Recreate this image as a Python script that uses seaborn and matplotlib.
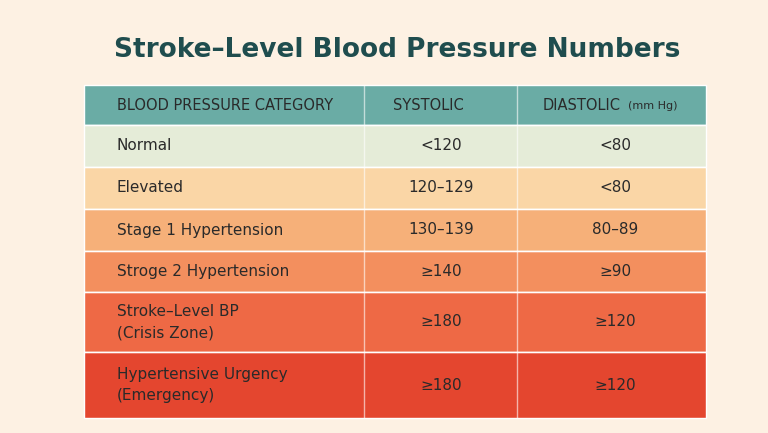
import matplotlib
matplotlib.use("Agg")
import matplotlib.pyplot as plt
import seaborn as sns

sns.set_theme(style="white")
plt.rcParams['font.family'] = ['DejaVu Sans']

title = "Stroke–Level Blood Pressure Numbers"
headers = ["BLOOD PRESSURE CATEGORY", "SYSTOLIC", "DIASTOLIC"]
categories = ["Normal", "Elevated", "Stage 1 Hypertension", "Stroge 2 Hypertension",
              "Stroke–Level BP\n(Crisis Zone)", "Hypertensive Urgency\n(Emergency)"]
systolic = ["<120", "120–129", "130–139", "≥140", "≥180", "≥180"]
diastolic = ["<80", "<80", "80–89", "≥90", "≥120", "≥120"]
row_colors = ["#e5ecd8", "#fad6a6", "#f6b079", "#f38f5e", "#ee6945", "#e4462f"]
row_edges = [125, 167, 209, 251, 292, 352, 418]

fig = plt.figure(figsize=(7.68, 4.33), dpi=100)
fig.patch.set_facecolor("#fdf1e3")
ax = fig.add_axes([0, 0, 1, 1])
ax.set_xlim(0, 768); ax.set_ylim(433, 0); ax.axis("off")

L, R = 84, 706
c1, c2 = 364, 517
ax.barh([105], [R - L], height=40, left=L, color="#6aaca5", align="center")
for i in range(len(categories)):
    top, bot = row_edges[i], row_edges[i + 1]
    ax.barh([(top + bot) / 2], [R - L], height=bot - top, left=L, color=row_colors[i])
    ax.plot([L, R], [top, top], color="white", lw=1, alpha=0.6)
for x in (c1, c2):
    ax.plot([x, x], [85, 418], color="white", lw=1, alpha=0.6)

tc = "#2a2a2a"
ax.text(397, 50, title, ha="center", va="center", fontsize=19, fontweight="bold", color="#1f4d4e")
ax.text(117, 105, headers[0], ha="left", va="center", fontsize=10.5, color=tc)
ax.text(393, 105, headers[1], ha="left", va="center", fontsize=10.5, color=tc)
ax.text(543, 105, headers[2], ha="left", va="center", fontsize=10.5, color=tc)
ax.text(628, 106, "(mm Hg)", ha="left", va="center", fontsize=8, color=tc)
for i in range(len(categories)):
    y = (row_edges[i] + row_edges[i + 1]) / 2
    ax.text(117, y, categories[i], ha="left", va="center", fontsize=11, color=tc, linespacing=1.5)
    ax.text(441, y, systolic[i], ha="center", va="center", fontsize=11, color=tc)
    ax.text(615, y, diastolic[i], ha="center", va="center", fontsize=11, color=tc)

fig.savefig("out.png", dpi=100, facecolor=fig.get_facecolor())
